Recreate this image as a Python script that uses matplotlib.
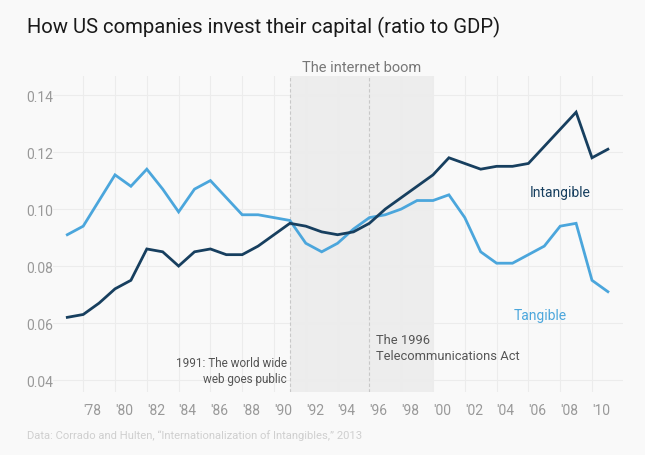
import matplotlib
matplotlib.use("Agg")
import matplotlib.pyplot as plt

plt.rcParams['font.family'] = ['Roboto', 'DejaVu Sans']

years = list(range(1977, 2012))
intangible = [0.062, 0.063, 0.067, 0.072, 0.075, 0.086, 0.085, 0.080, 0.085, 0.086,
              0.084, 0.084, 0.087, 0.091, 0.095, 0.094, 0.092, 0.091, 0.092, 0.095,
              0.100, 0.104, 0.108, 0.112, 0.118, 0.116, 0.114, 0.115, 0.115, 0.116,
              0.122, 0.128, 0.134, 0.118, 0.121]
tangible = [0.091, 0.094, 0.103, 0.112, 0.108, 0.114, 0.107, 0.099, 0.107, 0.110,
            0.104, 0.098, 0.098, 0.097, 0.096, 0.088, 0.085, 0.088, 0.093, 0.097,
            0.098, 0.100, 0.103, 0.103, 0.105, 0.097, 0.085, 0.081, 0.081, 0.084,
            0.087, 0.094, 0.095, 0.075, 0.071]
xticks = list(range(1978, 2011, 2))
xtick_labels = ["'" + str(y)[2:] for y in xticks]
yticks = [0.04, 0.06, 0.08, 0.10, 0.12, 0.14]
ytick_labels = ["0.04", "0.06", "0.08", "0.10", "0.12", "0.14"]

BG = '#f9f9f9'
DARK = '#173f5f'
BLUE = '#4ba6dc'

fig = plt.figure(figsize=(6.45, 4.56), dpi=100, facecolor=BG)
ax = fig.add_axes([53/645, 63/456, 570/645, 316/456], facecolor=BG)

ax.set_xlim(1976.1, 2011.95)
ax.set_ylim(0.0358, 0.1467)

ax.axvspan(1991, 2000, color='#ededed', zorder=0, lw=0)
for xv in (1991, 1996):
    ax.axvline(xv, color='#c8c8c8', lw=0.8, ls=(0, (3, 2)), zorder=1)

ax.set_xticks(xticks)
ax.set_xticklabels(xtick_labels)
ax.set_yticks(yticks)
ax.set_yticklabels(ytick_labels)
ax.grid(True, color='#ececec', lw=0.8, zorder=0.5)
ax.set_axisbelow(True)
for s in ax.spines.values():
    s.set_visible(False)
ax.tick_params(length=0, colors='#999999', labelsize=10)
ax.tick_params(axis='y', pad=19)
ax.tick_params(axis='x', pad=8)
for lbl in ax.get_yticklabels():
    lbl.set_horizontalalignment('left')
for lbl in ax.get_xticklabels():
    lbl.set_horizontalalignment('left')

ax.plot(years, tangible, color=BLUE, lw=2.0, zorder=3, solid_joinstyle='miter')
ax.plot(years, intangible, color=DARK, lw=2.0, zorder=4, solid_joinstyle='miter')

ax.text(1995.5, 0.1475, "The internet boom", ha='center', va='bottom',
        color='#777777', fontsize=10.5)
ax.text(1990.8, 0.0435, "1991: The world wide\nweb goes public", ha='right', va='center',
        color='#555555', fontsize=8.5, linespacing=1.3)
ax.text(1996.4, 0.0515, "The 1996\nTelecommunications Act", ha='left', va='center',
        color='#555555', fontsize=9.3, linespacing=1.3)
ax.text(2006.1, 0.106, "Intangible", ha='left', va='center', color=DARK, fontsize=10)
ax.text(2005.1, 0.0628, "Tangible", ha='left', va='center', color=BLUE, fontsize=10)

fig.text(27/645, 1 - 27/456, "How US companies invest their capital (ratio to GDP)",
         ha='left', va='center', fontsize=14.6, color='#1a1a1a')
fig.text(27/645, 1 - 436/456,
         "Data: Corrado and Hulten, \u201cInternationalization of Intangibles,\u201d 2013",
         ha='left', va='center', fontsize=8.1, color='#cfcfcf')

fig.savefig("out.png", dpi=100, facecolor=BG)
